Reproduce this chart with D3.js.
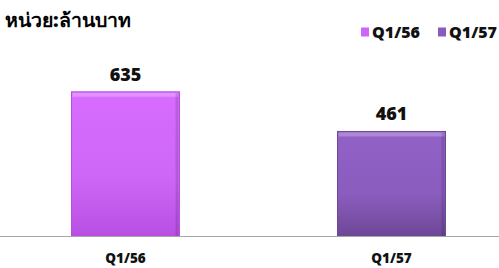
<!DOCTYPE html>
<html>
<head>
<meta charset="utf-8">
<script src="https://cdn.jsdelivr.net/npm/d3@7"></script>
<style>
  body { margin: 0; background: #fff; }
  svg { display: block; }
</style>
</head>
<body>
<svg id="chart"></svg>
<script>
const categories = ["Q1/56", "Q1/57"];
const values = [635, 461];
const unitLabel = "หน่วย:ล้านบาท";
const seriesColors = ["#cd66f7", "#8a5cbd"];

const width = 499, height = 268;
const baseY = 236.5;

const svg = d3.select("#chart")
    .attr("width", width)
    .attr("height", height);

const defs = svg.append("defs");
const darker = ["#b84fe3", "#6d4896"];
seriesColors.forEach((c, i) => {
    const g = defs.append("linearGradient")
        .attr("id", "grad" + i)
        .attr("x1", 0).attr("y1", 0).attr("x2", 0).attr("y2", 1);
    g.append("stop").attr("offset", "0%").attr("stop-color", d3.color(c).brighter(0.15));
    g.append("stop").attr("offset", "60%").attr("stop-color", c);
    g.append("stop").attr("offset", "100%").attr("stop-color", darker[i]);
});

const x = d3.scaleBand()
    .domain(categories)
    .range([-7.5, 524.5])
    .paddingInner(0.594)
    .paddingOuter(0.297);

const y = d3.scaleLinear()
    .domain([0, 700])
    .range([baseY, 77]);

// bars
const bars = svg.append("g").selectAll("g.bar")
    .data(values)
    .join("g")
    .attr("class", "bar");

bars.append("rect")
    .attr("x", (d, i) => x(categories[i]))
    .attr("y", d => y(d))
    .attr("width", x.bandwidth())
    .attr("height", d => baseY - y(d))
    .attr("fill", (d, i) => `url(#grad${i})`)
    .attr("stroke", (d, i) => darker[i])
    .attr("stroke-width", 1);

// bevel highlight on top
bars.append("rect")
    .attr("x", (d, i) => x(categories[i]) + 1)
    .attr("y", d => y(d) + 1)
    .attr("width", x.bandwidth() - 2)
    .attr("height", 4)
    .attr("fill", "#ffffff")
    .attr("opacity", 0.25);

// right edge shade
bars.append("rect")
    .attr("x", (d, i) => x(categories[i]) + x.bandwidth() - 4)
    .attr("y", d => y(d) + 1)
    .attr("width", 3)
    .attr("height", d => baseY - y(d) - 1)
    .attr("fill", "#000")
    .attr("opacity", 0.12);

// value labels
svg.append("g").selectAll("text")
    .data(values)
    .join("text")
    .attr("x", (d, i) => x(categories[i]) + x.bandwidth() / 2)
    .attr("y", d => y(d) - 11)
    .attr("text-anchor", "middle")
    .attr("font-family", "'Open Sans', sans-serif")
    .attr("font-weight", 800)
    .attr("font-size", 18)
    .attr("fill", "#111")
    .text(d => d);

// baseline axis
const xAxis = d3.axisBottom(x).tickSize(0).tickPadding(17);
const axisG = svg.append("g")
    .attr("transform", `translate(0, ${baseY})`)
    .call(xAxis);
axisG.select(".domain").remove();
axisG.append("line")
    .attr("x1", 0).attr("x2", width)
    .attr("stroke", "#a6a6a6")
    .attr("stroke-width", 1);
axisG.selectAll(".tick text")
    .attr("font-family", "'Open Sans', sans-serif")
    .attr("font-weight", 800)
    .attr("font-size", 13.5)
    .attr("fill", "#111");

// unit title
svg.append("text")
    .attr("x", 5)
    .attr("y", 27)
    .attr("font-family", "'Noto Sans', 'DejaVu Sans', sans-serif")
    .attr("font-weight", 900)
    .attr("font-size", 19.5)
    .attr("fill", "#000")
    .text(unitLabel);

// legend
const legendX = [361, 438];
const legend = svg.append("g").selectAll("g")
    .data(categories)
    .join("g")
    .attr("transform", (d, i) => `translate(${legendX[i]}, 27.5)`);
legend.append("rect")
    .attr("width", 8).attr("height", 9)
    .attr("fill", (d, i) => seriesColors[i]);
legend.append("text")
    .attr("x", 11)
    .attr("y", 10)
    .attr("font-family", "'Open Sans', sans-serif")
    .attr("font-weight", 800)
    .attr("font-size", 16)
    .attr("fill", "#111")
    .text(d => d);
</script>
</body>
</html>
